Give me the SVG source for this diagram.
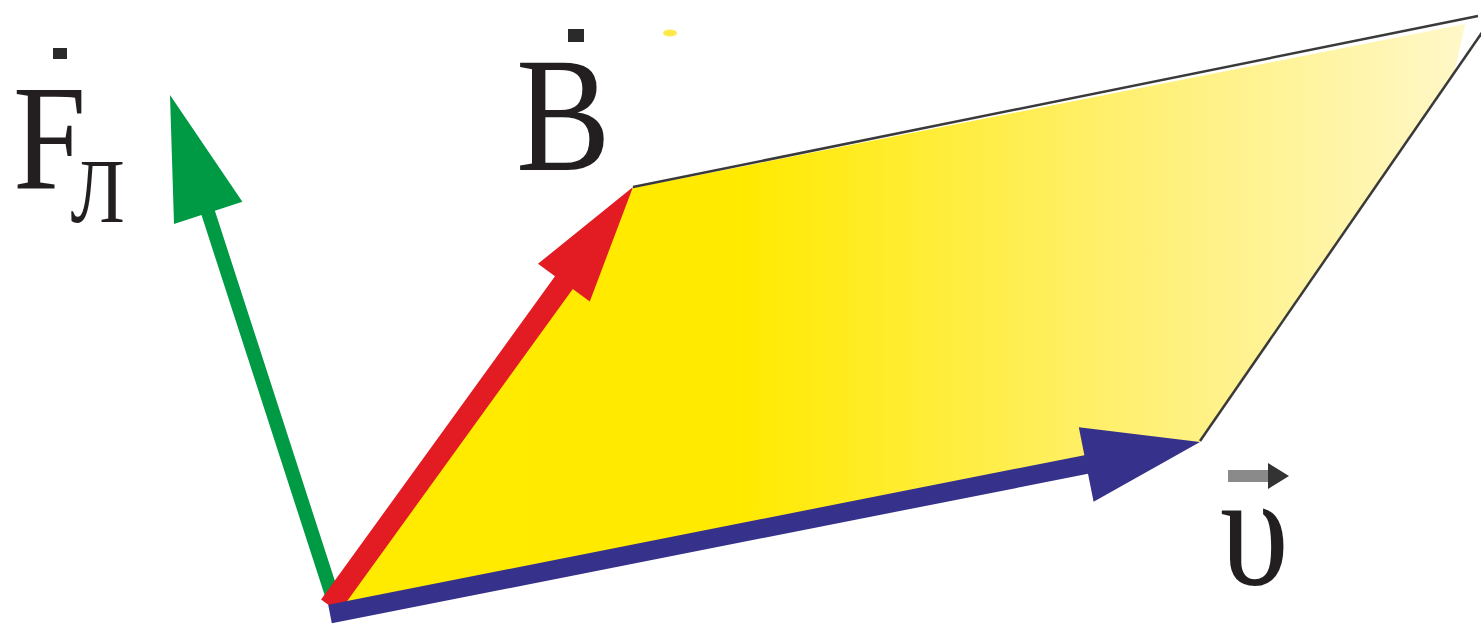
<svg xmlns="http://www.w3.org/2000/svg" width="1481" height="633" viewBox="0 0 1481 633">
<defs>
<linearGradient id="yel" gradientUnits="userSpaceOnUse" x1="330" y1="0" x2="1480" y2="0">
<stop offset="0" stop-color="#FFEB00"/>
<stop offset="0.36" stop-color="#FFEA00"/>
<stop offset="0.67" stop-color="#FFEF6A"/>
<stop offset="1" stop-color="#FFF8CC"/>
</linearGradient>
<style>
.lbl{fill:#231F20;font-family:"Liberation Serif","Times New Roman",serif}
.edge{stroke:#3a3a3a;stroke-width:2.5;fill:none}
.dot{fill:#2a2a2a}
</style>
</defs>
<rect width="1481" height="633" fill="#FFFFFF"/>
<g id="plane">
<polygon points="330,606 633,188 1465,24 1455,70 1200,442" fill="url(#yel)"/>
<line class="edge" x1="633" y1="187" x2="1478" y2="16"/>
<line class="edge" x1="1200" y1="441" x2="1492" y2="18"/>
<ellipse cx="670" cy="33" rx="7" ry="3.5" fill="#FFE94A"/>
</g>
<g id="connectors">
<polygon id="arrow-F" fill="#009A44" points="170,95 242.4,201.8 214.9,210.7 339.7,595.8 326.3,600.2 201.5,215.1 174,224"/>
<polygon id="arrow-B" fill="#E31B23" points="633,187 589.8,301.4 572.8,289 338.9,612.4 321.1,599.6 555,276.2 538,263.8"/>
<polygon id="arrow-v" fill="#36318A" points="1200,442 1093.6,501.8 1088,473.8 331.8,623.3 328.2,604.7 1084.4,455.2 1078.8,427.2"/>
</g>
<g id="label-F">
<rect class="dot" x="53" y="48" width="14" height="11"/>
<text class="lbl" transform="translate(13,188) scale(0.87,1)" font-size="151">F<tspan dx="-18" dy="34" font-size="92">Л</tspan></text>
</g>
<g id="label-B">
<rect class="dot" x="568" y="29" width="16" height="13"/>
<text class="lbl" transform="translate(516,170) scale(0.87,1)" font-size="163">B</text>
</g>
<g id="label-v">
<rect x="1228" y="470" width="44" height="12" fill="#8a8a8a"/>
<polygon points="1268,463 1289,476 1268,489" fill="#333"/>
<text class="lbl" transform="translate(1220,584) scale(0.87,1)" font-size="160">υ</text>
</g>
</svg>
